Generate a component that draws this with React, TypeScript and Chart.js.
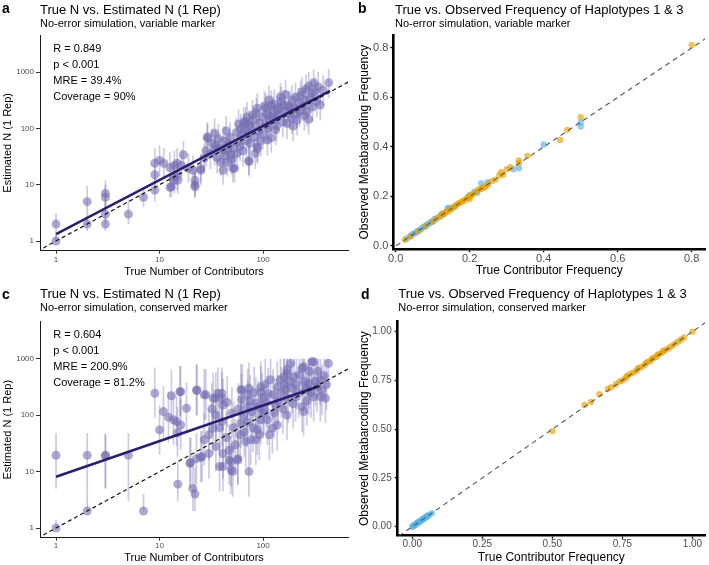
import React, { useEffect, useRef } from 'react';
import { Chart, registerables } from 'chart.js';

Chart.register(...registerables);

// [true N, estimated N, lower bound, upper bound]
type Run = [number, number, number, number];
// [true frequency, observed frequency]
type Pair = [number, number];

const trueNTicks = [1, 10, 100];
const estimateTicks = [1, 10, 100, 1000];
const freqTicksVariable = [0, 0.2, 0.4, 0.6, 0.8];
const freqTicksConserved = [0, 0.25, 0.5, 0.75, 1];

const variableStats = ['R = 0.849', 'p < 0.001', 'MRE = 39.4%', 'Coverage = 90%'];
const conservedStats = ['R = 0.604', 'p < 0.001', 'MRE = 200.9%', 'Coverage = 81.2%'];

const variableFit: Pair[] = [[1, 1.33], [444, 466]];
const conservedFit: Pair[] = [[1, 8.1], [351, 330]];
const identityLog: Pair[] = [[0.5, 0.5], [1000, 1000]];
const identityFreq: Pair[] = [[-0.1, -0.1], [1.1, 1.1]];

const variableRuns: Run[] = [
  [1, 1, 1, 1.3], [1, 2, 1, 3.1], [2, 5, 3, 9.5], [2, 2, 1.5, 3], [3, 7, 4, 12], [3, 6, 3.5, 10],
  [3, 3, 2, 5], [3, 2, 1.5, 3], [5, 3, 2, 5.5], [7, 6, 4, 9], [9, 8, 5, 14], [9, 15, 8, 28],
  [9, 24, 12, 45], [10, 27, 14, 50], [11, 24, 12, 45], [12.6, 9, 6, 16], [12.6, 20, 11, 38],
  [13.9, 22, 12, 40], [13.9, 12, 7, 22], [14.8, 15, 8, 28], [14.8, 24, 13, 45], [16.3, 22, 12, 42],
  [13, 9.2, 6, 15], [13.6, 13.8, 8, 25], [15, 12, 7, 22], [17, 34, 18, 60], [19, 19.5, 11, 36],
  [21, 18, 10, 33], [22, 9.2, 6, 16], [22, 12, 7, 21], [22, 10, 6, 18], [25, 18, 10, 33],
  [25, 19.5, 11, 36], [27, 29.5, 16, 55], [28, 40, 21, 73], [29, 67, 35, 120], [29, 71, 38, 130],
  [31, 35, 19, 65], [32, 55, 30, 100], [34, 82, 45, 150], [34, 41, 22, 75], [35, 50, 27, 90],
  [36, 30, 16, 55], [37, 65, 35, 120], [38, 45, 24, 82], [39, 25, 14, 46], [41, 41, 22, 75],
  [41, 18, 10, 33], [42, 60, 32, 110], [43, 33, 18, 60], [44, 90, 48, 165], [45, 25, 14, 46],
  [45.6, 41, 22, 75], [47, 52, 28, 95], [48, 70, 38, 128], [49, 34, 18, 62], [50, 28, 15, 52],
  [51, 19.5, 11, 36], [52, 44, 24, 80], [53, 19.5, 11, 36], [55, 85, 46, 155], [56, 36, 19, 66],
  [57, 58, 30, 105], [58, 120, 65, 220], [60, 48, 26, 88], [61, 100, 55, 180], [62, 75, 40, 137],
  [64, 40, 21, 73], [65, 130, 70, 238], [66, 95, 51, 175], [68, 131, 70, 240], [69, 60, 32, 110],
  [70, 160, 86, 290], [72, 80, 43, 146], [73, 27, 15, 50], [73, 25.6, 14, 47], [73, 115, 60, 210],
  [75, 55, 30, 100], [77, 105, 56, 192], [79, 173, 95, 320], [80, 140, 75, 255], [82, 70, 38, 128],
  [84, 36, 19, 66], [86, 190, 102, 350], [88, 228, 120, 420], [88, 44, 24, 80], [88, 47, 25, 85],
  [90, 90, 48, 165], [92, 125, 67, 230], [95, 60, 32, 110], [98, 160, 86, 290], [100, 78, 42, 143],
  [103, 250, 135, 460], [106, 228, 120, 420], [106, 115, 60, 210], [108, 180, 97, 330],
  [110, 62, 33, 115], [112, 100, 54, 183], [114, 318, 170, 580], [116, 140, 75, 255],
  [118, 162, 88, 300], [120, 68, 37, 125], [120, 260, 140, 475], [124, 200, 107, 365],
  [128, 270, 145, 495], [130, 150, 80, 275], [132, 94, 50, 170], [135, 110, 59, 200],
  [137, 212, 115, 390], [140, 170, 91, 310], [144, 230, 124, 420], [147, 365, 200, 650],
  [150, 300, 160, 550], [155, 130, 70, 238], [159, 260, 140, 480], [162, 200, 107, 365],
  [165, 400, 215, 730], [170, 123, 65, 230], [175, 250, 134, 460], [180, 180, 97, 330],
  [183, 243, 130, 450], [190, 320, 172, 585], [190, 150, 80, 275], [195, 110, 59, 200],
  [200, 230, 124, 420], [206, 356, 190, 650], [213, 141, 75, 260], [213, 185, 100, 340],
  [220, 280, 150, 520], [225, 200, 107, 365], [230, 380, 204, 700], [238, 450, 240, 820],
  [245, 250, 134, 460], [250, 170, 91, 310], [255, 318, 170, 580], [260, 500, 270, 900],
  [265, 200, 107, 365], [276, 565, 300, 1000], [276, 145, 78, 270], [285, 350, 188, 640],
  [295, 420, 225, 770], [300, 240, 129, 440], [308, 640, 340, 1100], [318, 450, 240, 820],
  [330, 300, 160, 550], [340, 550, 295, 1000], [357, 260, 140, 480], [380, 480, 258, 880],
  [430, 650, 350, 1150],
];

const conservedRuns: Run[] = [
  [1, 19.5, 5, 48], [1, 1, 1, 1.4], [2, 19.5, 5, 48], [2, 2, 2, 5], [3, 19.5, 5, 48], [3, 19, 5, 45],
  [5, 19.5, 3, 48], [7, 2, 2, 4], [9, 245, 90, 700], [10, 55, 20, 150], [10.9, 116, 40, 330],
  [12.2, 92, 33, 260], [13, 222, 80, 640], [13.6, 83, 30, 240], [14.6, 77, 28, 220], [15, 6, 3, 15],
  [14.9, 49, 18, 140], [15.7, 262, 95, 750], [16, 67, 24, 190], [16, 262, 95, 750],
  [18.2, 133, 48, 380], [19.6, 14, 5, 40], [20, 14.5, 5, 40], [21, 5, 2, 14], [22, 4, 2, 12],
  [22.7, 17, 6, 48], [22.7, 275, 100, 790], [23, 280, 100, 800], [25, 18, 6.5, 52],
  [25.7, 18.5, 6.5, 53], [27, 36.6, 13, 105], [27, 230, 83, 660], [28, 230, 83, 660],
  [30, 45, 16, 130], [30, 21, 7.5, 60], [32, 130, 47, 370], [33, 59, 21, 170], [33, 200, 72, 570],
  [35, 200, 72, 570], [35, 28, 10, 80], [35, 101, 36, 290], [36.6, 245, 88, 700], [38, 12.3, 4.5, 35],
  [38, 60, 22, 170], [40, 245, 88, 700], [40, 77, 28, 220], [40, 200, 72, 570], [41, 152, 55, 440],
  [41, 21, 7.5, 60], [41, 12.3, 4.5, 35], [44, 40, 14, 115], [45, 170, 61, 490], [47, 24, 8.6, 69],
  [47, 16, 5.8, 46], [49, 10.8, 4, 31], [49, 15, 5.4, 43], [50, 110, 40, 315], [51, 10, 3.6, 29],
  [52, 60, 22, 172], [54, 30, 11, 86], [57, 17, 6, 49], [57, 16, 5.8, 46], [58, 130, 47, 370],
  [60, 45, 16, 130], [61, 282, 100, 810], [61, 72, 26, 207], [62, 190, 68, 545], [63, 280, 100, 800],
  [65, 100, 36, 287], [66, 50, 18, 143], [68, 34, 12, 98], [70, 75, 27, 215], [71, 230, 83, 660],
  [71, 142, 51, 410], [73, 300, 108, 860], [73, 10, 3.6, 29], [75, 180, 65, 515], [76, 36.6, 13, 105],
  [78, 115, 41, 330], [80, 60, 22, 172], [82, 250, 90, 715], [85, 36.6, 13, 105], [85, 163, 59, 470],
  [88, 55, 20, 158], [90, 140, 50, 400], [92, 45, 16, 130], [95, 262, 95, 750], [95, 83, 30, 240],
  [95, 318, 115, 910], [98, 200, 72, 575], [100, 110, 40, 315], [102, 124, 45, 355],
  [105, 350, 126, 1000], [108, 170, 61, 490], [110, 83, 30, 240], [112, 240, 86, 690],
  [115, 45, 16, 130], [118, 425, 150, 1000], [123, 59, 21, 170], [125, 230, 83, 660],
  [128, 110, 40, 315], [132, 152, 55, 440], [137, 318, 115, 910], [137, 67, 24, 192],
  [140, 180, 65, 515], [147, 425, 150, 1000], [150, 250, 90, 715], [155, 130, 47, 370],
  [159, 480, 170, 1000], [160, 350, 126, 1000], [165, 282, 100, 810], [170, 550, 200, 1000],
  [170, 635, 230, 1000], [170, 101, 36, 290], [175, 200, 72, 575], [180, 400, 144, 1000],
  [185, 830, 300, 1000], [190, 300, 108, 860], [195, 160, 58, 460], [199, 480, 170, 1000],
  [206, 213, 77, 610], [210, 350, 126, 1000], [220, 250, 90, 715], [225, 520, 187, 1000],
  [238, 680, 245, 1000], [238, 142, 51, 410], [246, 725, 260, 1000], [246, 116, 42, 333],
  [250, 400, 144, 1000], [260, 300, 108, 860], [265, 180, 65, 515], [276, 365, 130, 1000],
  [276, 280, 100, 800], [280, 600, 216, 1000], [290, 250, 90, 715], [296, 890, 320, 1000],
  [308, 890, 320, 1000], [308, 213, 77, 610], [320, 400, 144, 1000], [332, 318, 115, 910],
  [340, 600, 216, 1000], [357, 213, 77, 610], [357, 425, 150, 1000], [370, 280, 100, 800],
  [390, 500, 180, 1000], [400, 200, 72, 575], [410, 350, 126, 1000], [428, 830, 300, 1000],
];

const variableHap3: Pair[] = [
  [0.03, 0.03], [0.04, 0.04], [0.045, 0.047], [0.05, 0.05], [0.055, 0.054], [0.06, 0.062],
  [0.065, 0.064], [0.07, 0.07], [0.075, 0.077], [0.08, 0.079], [0.085, 0.087], [0.09, 0.09],
  [0.095, 0.097], [0.1, 0.1], [0.105, 0.108], [0.11, 0.11], [0.12, 0.122], [0.125, 0.127],
  [0.13, 0.13], [0.14, 0.15], [0.143, 0.155], [0.15, 0.15], [0.16, 0.162], [0.2, 0.205],
  [0.213, 0.219], [0.22, 0.215], [0.231, 0.253], [0.249, 0.257], [0.318, 0.31], [0.333, 0.314],
  [0.4, 0.41], [0.5, 0.498], [0.5, 0.482],
];

const variableHap1: Pair[] = [
  [0.025, 0.025], [0.04, 0.038], [0.06, 0.058], [0.08, 0.08], [0.1, 0.098], [0.11, 0.112],
  [0.12, 0.118], [0.125, 0.13], [0.13, 0.128], [0.135, 0.137], [0.14, 0.138], [0.145, 0.146],
  [0.15, 0.148], [0.155, 0.157], [0.16, 0.158], [0.165, 0.167], [0.17, 0.172], [0.175, 0.174],
  [0.18, 0.182], [0.185, 0.183], [0.19, 0.19], [0.195, 0.198], [0.2, 0.2], [0.2, 0.19],
  [0.205, 0.207], [0.21, 0.21], [0.22, 0.222], [0.225, 0.228], [0.23, 0.23], [0.235, 0.236],
  [0.24, 0.235], [0.245, 0.243], [0.25, 0.25], [0.26, 0.262], [0.27, 0.268], [0.28, 0.285],
  [0.285, 0.298], [0.29, 0.288], [0.3, 0.31], [0.31, 0.318], [0.333, 0.345], [0.333, 0.335],
  [0.356, 0.364], [0.444, 0.428], [0.464, 0.469], [0.5, 0.52], [0.8, 0.812],
];

const conservedHap3: Pair[] = [
  [0, 0], [0.003, 0.003], [0.005, 0.006], [0.008, 0.008], [0.01, 0.011], [0.012, 0.012],
  [0.015, 0.015], [0.018, 0.019], [0.02, 0.02], [0.022, 0.023], [0.025, 0.025], [0.028, 0.029],
  [0.03, 0.03], [0.033, 0.034], [0.035, 0.036], [0.038, 0.038], [0.04, 0.041], [0.043, 0.043],
  [0.045, 0.046], [0.048, 0.048], [0.05, 0.051], [0.053, 0.053], [0.055, 0.056], [0.06, 0.06],
  [0.07, 0.069],
];

const conservedHap1: Pair[] = [
  [0.5, 0.49], [0.615, 0.624], [0.638, 0.64], [0.668, 0.679], [0.698, 0.706], [0.71, 0.715],
  [0.727, 0.73], [0.74, 0.745], [0.75, 0.75], [0.76, 0.76], [0.765, 0.77], [0.77, 0.775],
  [0.78, 0.785], [0.79, 0.79], [0.8, 0.8], [0.805, 0.81], [0.81, 0.815], [0.82, 0.82],
  [0.83, 0.83], [0.835, 0.84], [0.84, 0.845], [0.85, 0.85], [0.855, 0.86], [0.86, 0.865],
  [0.87, 0.87], [0.875, 0.88], [0.88, 0.885], [0.89, 0.89], [0.895, 0.9], [0.9, 0.905],
  [0.91, 0.91], [0.92, 0.92], [0.93, 0.93], [0.94, 0.94], [0.95, 0.95], [0.96, 0.96],
  [0.97, 0.97], [1.0, 1.0],
];

const FONT = '"Liberation Sans", Arial, Helvetica, sans-serif';
const PURPLE = 'rgba(117, 107, 177, 0.58)';
const PURPLE_BAR = 'rgba(117, 107, 177, 0.36)';
const FIT_COLOR = '#2b1e6e';
const ORANGE = 'rgba(230, 159, 0, 0.65)';
const SKY = 'rgba(86, 180, 233, 0.65)';
const TICK_GREY = '#4d4d4d';

Chart.defaults.font.family = FONT;

// canvas placement (x, y, w, h) and plotting area inside the canvas (l, t, r, b)
type Box = { x: number; y: number; w: number; h: number; l: number; t: number; r: number; b: number };

const boxA: Box = { x: 0, y: 0, w: 354, h: 282, l: 40, t: 35, r: 348, b: 250.7 };
const boxB: Box = { x: 354, y: 0, w: 355, h: 282, l: 39.3, t: 35, r: 352.7, b: 249.3 };
const boxC: Box = { x: 0, y: 282, w: 354, h: 283, l: 40, t: 39.7, r: 348, b: 255.7 };
const boxD: Box = { x: 354, y: 282, w: 355, h: 283, l: 43.7, t: 39.7, r: 352, b: 253.7 };

type AxisCfg = {
  log: boolean;
  min: number;
  max: number;
  ticks: number[];
  fmt: (v: number) => string;
  tickFont: number;
  tickLen: number;
  tickW: number;
  tickColor: string;
  pad: number;
  title: string;
  titleFont: number;
  titlePad: number;
  borderColor: string;
  borderW: number;
  size: number;
};

function makeScale(kind: 'x' | 'y', c: AxisCfg) {
  return {
    type: c.log ? 'logarithmic' : 'linear',
    position: kind === 'x' ? 'bottom' : 'left',
    min: c.min,
    max: c.max,
    afterBuildTicks: (s: any) => {
      s.ticks = c.ticks.map((v) => ({ value: v }));
    },
    afterFit: (s: any) => {
      if (kind === 'x') s.height = c.size;
      else s.width = c.size;
    },
    ticks: {
      callback: (v: any) => c.fmt(Number(v)),
      color: TICK_GREY,
      font: { family: FONT, size: c.tickFont },
      padding: c.pad,
      autoSkip: false,
      maxRotation: 0,
      minRotation: 0,
    },
    grid: {
      display: true,
      drawOnChartArea: false,
      drawTicks: true,
      tickLength: c.tickLen,
      tickWidth: c.tickW,
      tickColor: c.tickColor,
      color: c.tickColor,
    },
    border: { display: true, color: c.borderColor, width: c.borderW },
    title: {
      display: true,
      text: c.title,
      color: '#000',
      font: { family: FONT, size: c.titleFont },
      padding: kind === 'x' ? { top: 0, bottom: c.titlePad } : { top: c.titlePad, bottom: 0 },
    },
  };
}

const toPoints = (pairs: Pair[]) => pairs.map(([x, y]) => ({ x, y }));

function errorBarPlugin(runs: Run[]) {
  return {
    id: 'errorBars',
    beforeDatasetsDraw(chart: any) {
      const { ctx, chartArea, scales } = chart;
      ctx.save();
      ctx.beginPath();
      ctx.rect(chartArea.left, chartArea.top, chartArea.right - chartArea.left, chartArea.bottom - chartArea.top);
      ctx.clip();
      ctx.strokeStyle = PURPLE_BAR;
      ctx.lineWidth = 1.7;
      for (const [x, , lo, hi] of runs) {
        const px = scales.x.getPixelForValue(x);
        ctx.beginPath();
        ctx.moveTo(px, scales.y.getPixelForValue(lo));
        ctx.lineTo(px, scales.y.getPixelForValue(hi));
        ctx.stroke();
      }
      ctx.restore();
    },
  };
}

const logFmt = (v: number) => String(v);

function estimateConfig(box: Box, runs: Run[], fit: Pair[], tickPad: number, titlePadX: number, titlePadY: number) {
  const axisBase = {
    log: true,
    fmt: logFmt,
    tickFont: 8,
    tickLen: 4,
    tickW: 1,
    tickColor: '#333',
    titleFont: 11,
    borderColor: '#1a1a1a',
    borderW: 1,
  };
  return {
    type: 'scatter',
    data: {
      datasets: [
        {
          label: 'identity',
          data: toPoints(identityLog),
          showLine: true,
          borderColor: '#111',
          borderWidth: 1.2,
          borderDash: [4, 3],
          pointRadius: 0,
          clip: 0,
          order: 0,
        },
        {
          label: 'fit',
          data: toPoints(fit),
          showLine: true,
          borderColor: FIT_COLOR,
          borderWidth: 2.5,
          pointRadius: 0,
          clip: 0,
          order: 1,
        },
        {
          label: 'runs',
          data: runs.map(([x, y]) => ({ x, y })),
          pointRadius: 4.5,
          pointBackgroundColor: PURPLE,
          pointBorderWidth: 0,
          order: 2,
        },
      ],
    },
    options: {
      responsive: false,
      animation: false,
      events: [],
      layout: { padding: { left: 0, top: box.t, right: box.w - box.r, bottom: 0 } },
      plugins: { legend: { display: false }, tooltip: { enabled: false } },
      scales: {
        x: makeScale('x', {
          ...axisBase,
          ticks: trueNTicks,
          min: 0.746,
          max: 661,
          pad: tickPad,
          tickLen: 3,
          title: 'True Number of Contributors',
          titlePad: titlePadX,
          size: box.h - box.b,
        }),
        y: makeScale('y', {
          ...axisBase,
          ticks: estimateTicks,
          min: 0.673,
          max: 4560,
          pad: 2,
          title: 'Estimated N (1 Rep)',
          titlePad: titlePadY,
          size: box.l,
        }),
      },
    },
    plugins: [errorBarPlugin(runs)],
  };
}

function frequencyConfig(
  box: Box,
  hap1: Pair[],
  hap3: Pair[],
  range: { xmin: number; xmax: number; ymin: number; ymax: number },
  ticks: number[],
  digits: number,
  tickFont: number,
  xPad: number,
  yPad: number,
  titlePadX: number,
  titlePadY: number,
) {
  const fmt = (v: number) => v.toFixed(digits);
  const axisBase = {
    log: false,
    ticks,
    fmt,
    tickFont,
    tickLen: 3,
    tickW: 1.5,
    tickColor: '#222',
    titleFont: 12,
    borderColor: '#000',
    borderW: 2.6,
  };
  return {
    type: 'scatter',
    data: {
      datasets: [
        {
          label: 'identity',
          data: toPoints(identityFreq),
          showLine: true,
          borderColor: '#555',
          borderWidth: 1.1,
          borderDash: [5, 4],
          pointRadius: 0,
          clip: 0,
          order: 0,
        },
        {
          label: 'Haplotype 1',
          data: toPoints(hap1),
          pointRadius: 3.2,
          pointBackgroundColor: ORANGE,
          pointBorderWidth: 0,
          order: 1,
        },
        {
          label: 'Haplotype 3',
          data: toPoints(hap3),
          pointRadius: 3.2,
          pointBackgroundColor: SKY,
          pointBorderWidth: 0,
          order: 2,
        },
      ],
    },
    options: {
      responsive: false,
      animation: false,
      events: [],
      layout: { padding: { left: 0, top: box.t, right: box.w - box.r, bottom: 0 } },
      plugins: { legend: { display: false }, tooltip: { enabled: false } },
      scales: {
        x: makeScale('x', {
          ...axisBase,
          min: range.xmin,
          max: range.xmax,
          pad: xPad,
          title: 'True Contributor Frequency',
          titlePad: titlePadX,
          size: box.h - box.b,
        }),
        y: makeScale('y', {
          ...axisBase,
          min: range.ymin,
          max: range.ymax,
          pad: yPad,
          title: 'Observed Metabarcoding Frequency',
          titlePad: titlePadY,
          size: box.l,
        }),
      },
    },
  };
}

function ChartCanvas({ box, make }: { box: Box; make: () => any }) {
  const ref = useRef<HTMLCanvasElement>(null);
  useEffect(() => {
    const chart = new Chart(ref.current as HTMLCanvasElement, make());
    return () => chart.destroy();
  }, []);
  return (
    <canvas
      ref={ref}
      width={box.w}
      height={box.h}
      style={{ position: 'absolute', left: box.x, top: box.y, width: box.w, height: box.h, display: 'block' }}
    />
  );
}

// positioned by text baseline
function Text({ x, baseline, size, children, bold = false }: { x: number; baseline: number; size: number; children: React.ReactNode; bold?: boolean }) {
  return (
    <div
      style={{
        position: 'absolute',
        left: x,
        top: baseline - 0.8465 * size,
        fontSize: size,
        lineHeight: 1,
        fontFamily: FONT,
        fontWeight: bold ? 700 : 400,
        color: '#000',
        whiteSpace: 'nowrap',
      }}
    >
      {children}
    </div>
  );
}

function Stats({ x, firstBaseline, lines }: { x: number; firstBaseline: number; lines: string[] }) {
  return (
    <>
      {lines.map((s, i) => (
        <Text key={s} x={x} baseline={firstBaseline + i * 16} size={11}>
          {s}
        </Text>
      ))}
    </>
  );
}

export default function App() {
  return (
    <div style={{ position: 'fixed', left: 0, top: 0, width: 709, height: 565, background: '#fff', overflow: 'hidden' }}>
      <ChartCanvas box={boxA} make={() => estimateConfig(boxA, variableRuns, variableFit, 1, 3.7, 1.4)} />
      <ChartCanvas
        box={boxB}
        make={() =>
          frequencyConfig(boxB, variableHap1, variableHap3, { xmin: -0.0065, xmax: 0.836, ymin: -0.0135, ymax: 0.852 }, freqTicksVariable, 1, 11, 0, 2, 3.8, 3.8)
        }
      />
      <ChartCanvas box={boxC} make={() => estimateConfig(boxC, conservedRuns, conservedFit, 0, 0.9, 1.7)} />
      <ChartCanvas
        box={boxD}
        make={() =>
          frequencyConfig(boxD, conservedHap1, conservedHap3, { xmin: -0.052, xmax: 1.045, ymin: -0.046, ymax: 1.051 }, freqTicksConserved, 2, 10, 0, 3, 0.3, 3.8)
        }
      />

      <Text x={2} baseline={13.3} size={14} bold>a</Text>
      <Text x={40} baseline={14.5} size={13}>True N vs. Estimated N (1 Rep)</Text>
      <Text x={40} baseline={27.3} size={11}>No-error simulation, variable marker</Text>
      <Stats x={53.3} firstBaseline={51.9} lines={variableStats} />

      <Text x={358} baseline={13.3} size={14} bold>b</Text>
      <Text x={395} baseline={14.5} size={13}>True vs. Observed Frequency of Haplotypes 1 &amp; 3</Text>
      <Text x={395} baseline={27.3} size={11}>No-error simulation, variable marker</Text>

      <Text x={2} baseline={298.5} size={14} bold>c</Text>
      <Text x={40} baseline={298.5} size={13}>True N vs. Estimated N (1 Rep)</Text>
      <Text x={40} baseline={311.8} size={11}>No-error simulation, conserved marker</Text>
      <Stats x={53.3} firstBaseline={337.9} lines={conservedStats} />

      <Text x={361} baseline={298.5} size={14} bold>d</Text>
      <Text x={398.3} baseline={298.5} size={13}>True vs. Observed Frequency of Haplotypes 1 &amp; 3</Text>
      <Text x={398.3} baseline={311.8} size={11}>No-error simulation, conserved marker</Text>
    </div>
  );
}
